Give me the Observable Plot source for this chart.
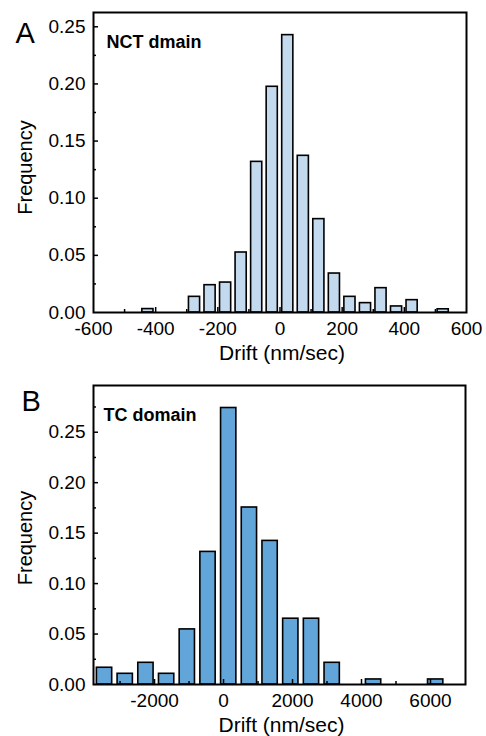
<!DOCTYPE html>
<html><head><meta charset="utf-8">
<script src="https://cdn.jsdelivr.net/npm/d3@7"></script>
<script src="https://cdn.jsdelivr.net/npm/@observablehq/plot@0.6"></script>
<style>body{margin:0;background:#fff;} #chart svg{display:block}</style>
</head><body><div id="chart"></div>
<script>
// Panel A: NCT domain
const binStartA = [-450,-300,-250,-200,-150,-100,-50,0,50,100,150,200,250,300,350,400,500];
const freqA = [0.003,0.0137,0.0239,0.0262,0.0525,0.1318,0.1975,0.2427,0.1371,0.0817,0.0341,0.0137,0.0082,0.0213,0.0053,0.0108,0.0028];
const binWidthA = 50;
const xLabelsA = [-600,-400,-200,0,200,400,600];
const xTicksA = [-500,-400,-300,-200,-100,0,100,200,300,400,500];
const yLabelsA = [0,0.05,0.10,0.15,0.20,0.25];
const yTicksA = [0.025,0.05,0.075,0.10,0.125,0.15,0.175,0.20,0.225,0.25];

// Panel B: TC domain
const binStartB = [-3750,-3150,-2550,-1950,-1350,-750,-150,450,1050,1650,2250,2850,4050,5850];
const freqB = [0.0166,0.0106,0.0215,0.0106,0.0546,0.1314,0.274,0.1754,0.1423,0.0652,0.0652,0.0215,0.005,0.005];
const binWidthB = 600;
const xLabelsB = [-2000,0,2000,4000,6000];
const xTicksB = [-3000,-2000,-1000,0,1000,2000,3000,4000,5000,6000];
const yLabelsB = [0,0.05,0.10,0.15,0.20,0.25];
const yTicksB = [0.025,0.05,0.075,0.10,0.125,0.15,0.175,0.20,0.225,0.25,0.275];

function panel(o) {
  const W = 486, H = 368;
  const plotW = W - o.ml - o.mr, plotH = H - o.mt - o.mb;
  const data = o.starts.map((s, i) => ({x1: s, x2: s + o.bw, f: o.freqs[i]}));
  const major = v => o.xLabels.includes(v);
  const majorY = v => o.yLabels.some(l => Math.abs(l - v) < 1e-9);
  return Plot.plot({
    width: W, height: H,
    marginLeft: o.ml, marginRight: o.mr, marginTop: o.mt, marginBottom: o.mb,
    style: {fontFamily: "'Liberation Sans', Arial, sans-serif", fontSize: "19px", background: "white", color: "black", overflow: "visible"},
    x: {domain: o.xDomain},
    y: {domain: o.yDomain},
    marks: [
      Plot.rectY(data, {x1: "x1", x2: "x2", y: "f", fill: o.fill, stroke: "black", strokeWidth: 1.6, insetLeft: o.inset, insetRight: o.inset}),
      Plot.tickX(o.xTicks.filter(major), {x: d => d, insetTop: plotH - 5, stroke: "black", strokeWidth: 1.5}),
      Plot.tickX(o.xTicks.filter(v => !major(v)), {x: d => d, insetTop: plotH - 3, stroke: "black", strokeWidth: 1.5}),
      Plot.tickY(o.yTicks.filter(majorY), {y: d => d, insetRight: plotW - 5, stroke: "black", strokeWidth: 1.5}),
      Plot.tickY(o.yTicks.filter(v => !majorY(v)), {y: d => d, insetRight: plotW - 3, stroke: "black", strokeWidth: 1.5}),
      Plot.frame({stroke: "black", strokeWidth: 2}),
      Plot.axisX(o.xLabels, {tickSize: 0, tickPadding: 9, label: null, tickFormat: d => String(d), fontSize: 19}),
      Plot.axisY(o.yLabels, {tickSize: 0, tickPadding: 8, label: null, tickFormat: d => d.toFixed(2), fontSize: 19}),
      Plot.text(["Drift (nm/sec)"], {text: d => d, frameAnchor: "bottom", dy: o.xTitleDy, dx: 2, textAnchor: "middle", lineAnchor: "bottom", fontSize: 21}),
      Plot.text(["Frequency"], {text: d => d, frameAnchor: "left", rotate: -90, dx: -62, dy: o.yTitleDy, textAnchor: "middle", lineAnchor: "bottom", fontSize: 20}),
      Plot.text([o.letter], {text: d => d, frameAnchor: "top-left", dx: o.letterDx, dy: o.letterDy, textAnchor: "start", lineAnchor: "bottom", fontSize: 29}),
      Plot.text([o.title], {text: d => d, frameAnchor: "top-left", dx: o.titleDx, dy: 35, textAnchor: "start", lineAnchor: "bottom", fontSize: 18, fontWeight: "bold"})
    ]
  });
}

const chart = document.getElementById("chart");
chart.append(panel({
  starts: binStartA, freqs: freqA, bw: binWidthA,
  xDomain: [-600, 600], yDomain: [0, 0.2625],
  xLabels: xLabelsA, xTicks: xTicksA, yLabels: yLabelsA, yTicks: yTicksA,
  fill: "#c3d9ee", inset: 2.2,
  ml: 93, mr: 20, mt: 12, mb: 56,
  xTitleDy: 47, yTitleDy: 5,
  letter: "A", letterDx: -78, letterDy: 30,
  title: "NCT dmain", titleDx: 13
}));
chart.append(panel({
  starts: binStartB, freqs: freqB, bw: binWidthB,
  xDomain: [-3770, 7015], yDomain: [0, 0.2963],
  xLabels: xLabelsB, xTicks: xTicksB, yLabels: yLabelsB, yTicks: yTicksB,
  fill: "#62a6d9", inset: 2.7,
  ml: 93, mr: 21, mt: 17, mb: 52,
  xTitleDy: 47, yTitleDy: 3,
  letter: "B", letterDx: -72, letterDy: 25,
  title: "TC domain", titleDx: 10
}));
</script>
</body></html>
